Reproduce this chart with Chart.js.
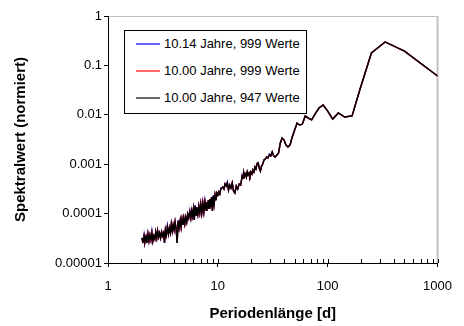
<!DOCTYPE html>
<html lang="de">
<head>
<meta charset="utf-8">
<title>Spektrum</title>
<script src="https://cdn.jsdelivr.net/npm/chart.js@4.4.0/dist/chart.umd.min.js"></script>
<style>
  html, body { margin: 0; padding: 0; background: #fff; }
  #wrap { position: relative; width: 464px; height: 326px; }
  #legende {
    position: absolute; left: 124px; top: 30px; width: 181px; height: 82px;
    border: 1px solid #000; background: #fff;
    font: 13px "Liberation Sans", Arial, sans-serif; color: #000;
  }
  #legende .linie { position: absolute; left: 11px; width: 24px; height: 2px; opacity: 0.6; }
  #legende .text { position: absolute; left: 39px; height: 16px; line-height: 16px; white-space: nowrap; }
</style>
</head>
<body>
<div id="wrap">
  <canvas id="spektrum" width="464" height="326"></canvas>
  <div id="legende"></div>
</div>
<script>
// Periodenlängen [d], gemeinsame Stützstellen der drei Spektren
const perioden = [
  2.04, 2.08, 2.13, 2.17, 2.22, 2.26, 2.31, 2.36, 2.41, 2.46,
  2.51, 2.56, 2.61, 2.67, 2.72, 2.78, 2.83, 2.89, 2.95,
  3.01, 3.08, 3.14, 3.21, 3.27, 3.33, 3.40, 3.47, 3.55, 3.62, 3.70, 3.77, 3.85, 3.92,
  4.00, 4.08, 4.17, 4.26, 4.35, 4.44, 4.55, 4.63, 4.72, 4.81, 4.90,
  5.00, 5.10, 5.21, 5.32, 5.43, 5.56, 5.68, 5.78, 5.88,
  5.99, 6.10, 6.21, 6.33, 6.45, 6.58, 6.71, 6.85, 6.99,
  7.14, 7.30, 7.46, 7.63, 7.81, 7.94,
  8.06, 8.20, 8.33, 8.47, 8.62, 8.77, 8.93,
  9.09, 9.26, 9.43, 9.62, 9.80, 10.0,
  10.20, 10.42, 10.64, 10.87, 11.11, 11.36, 11.63, 11.90, 12.20, 12.50,
  12.82, 13.16, 13.51, 13.89, 14.29, 14.71, 15.15, 15.63, 16.13, 16.67,
  16.95, 17.24, 17.54, 17.86, 18.18, 18.52, 18.87, 19.23, 19.61, 20.00,
  20.41, 20.83, 21.28, 21.74, 22.22, 22.73, 23.26, 23.81, 24.39, 25.00,
  25.64, 26.32, 27.03, 27.78, 28.57, 29.41, 30.30, 31.25, 32.26, 33.33,
  34.48, 35.71, 37.04, 38.46,
  40.00, 41.67, 43.48, 45.45, 47.62, 50.00, 52.63, 55.56, 58.82, 62.50,
  66.67, 71.43, 76.92, 83.33, 90.91, 100.0, 111.1, 125.0, 142.9, 166.7,
  200.0, 250.0, 333.3, 500.0, 1000
];

// 10.14 Jahre, 999 Werte
const werte1014 = [
  3.21e-5, 2.54e-5, 3.70e-5, 2.66e-5, 3.36e-5, 2.54e-5, 3.87e-5, 2.79e-5, 3.69e-5, 2.92e-5,
  4.30e-5, 2.79e-5, 3.52e-5, 3.06e-5, 4.25e-5, 3.21e-5, 4.45e-5, 3.36e-5, 4.05e-5,
  3.21e-5, 4.25e-5, 3.52e-5, 4.05e-5, 2.54e-5, 4.66e-5, 3.69e-5, 5.60e-5, 3.87e-5, 5.11e-5, 4.05e-5, 6.16e-5, 4.45e-5, 5.88e-5,
  4.66e-5, 6.76e-5, 4.88e-5, 2.54e-5, 7.40e-5, 5.11e-5, 7.42e-5, 5.36e-5, 7.78e-5, 5.88e-5, 8.15e-5,
  6.16e-5, 8.54e-5, 6.76e-5, 9.80e-5, 8.15e-5, 1.13e-4, 8.15e-5, 1.13e-4, 8.94e-5,
  1.24e-4, 7.42e-5, 1.48e-4, 9.37e-5, 1.36e-4, 9.80e-5, 1.42e-4, 1.03e-4, 1.56e-4,
  1.03e-4, 1.64e-4, 1.08e-4, 1.80e-4, 1.18e-4, 1.72e-4,
  1.24e-4, 1.88e-4, 1.30e-4, 1.97e-4, 1.36e-4, 2.17e-4, 1.13e-4,
  2.36e-4, 1.56e-4, 2.38e-4, 1.88e-4, 2.61e-4, 2.38e-4,
  2.74e-4, 2.49e-4, 3.30e-4, 3.30e-4, 3.45e-4, 3.15e-4, 3.97e-4, 3.62e-4, 4.35e-4, 3.00e-4,
  3.79e-4, 3.30e-4, 4.16e-4, 2.87e-4, 2.61e-4, 3.62e-4, 3.15e-4, 3.97e-4, 3.79e-4, 6.00e-4,
  5.26e-4, 6.64e-4, 5.77e-4, 6.34e-4, 5.51e-4, 6.95e-4, 6.04e-4, 6.64e-4, 5.77e-4, 6.95e-4,
  6.34e-4, 7.63e-4, 6.95e-4, 8.77e-4, 8.00e-4, 1.05e-3, 1.06e-3, 8.37e-4, 7.28e-4, 9.20e-4,
  1.01e-3, 1.22e-3, 1.27e-3, 1.40e-3, 1.34e-3, 1.60e-3, 1.47e-3, 1.77e-3, 1.47e-3, 1.40e-3,
  1.54e-3, 1.69e-3, 2.69e-3, 3.39e-3,
  3.09e-3, 2.45e-3, 2.23e-3, 2.45e-3, 3.70e-3, 4.90e-3, 6.80e-3, 6.20e-3, 6.50e-3, 9.50e-3,
  8.60e-3, 7.90e-3, 1.04e-2, 1.37e-2, 1.58e-2, 1.19e-2, 8.20e-3, 1.09e-2, 9.00e-3, 9.50e-3,
  0.037, 0.178, 0.298, 0.195, 0.061
];

// 10.00 Jahre, 999 Werte
const werte1000 = [
  3.21e-5, 2.54e-5, 3.52e-5, 2.66e-5, 3.36e-5, 2.54e-5, 3.87e-5, 2.79e-5, 3.69e-5, 2.92e-5,
  4.05e-5, 2.79e-5, 3.52e-5, 3.06e-5, 4.25e-5, 3.21e-5, 4.45e-5, 3.36e-5, 4.05e-5,
  3.21e-5, 4.25e-5, 3.52e-5, 4.05e-5, 2.60e-5, 4.66e-5, 3.69e-5, 5.36e-5, 3.87e-5, 5.11e-5, 4.05e-5, 6.16e-5, 4.45e-5, 5.88e-5,
  4.66e-5, 6.76e-5, 4.88e-5, 2.70e-5, 7.08e-5, 5.11e-5, 7.42e-5, 5.36e-5, 7.78e-5, 5.88e-5, 8.15e-5,
  6.16e-5, 8.54e-5, 6.76e-5, 9.80e-5, 8.15e-5, 1.08e-4, 8.15e-5, 1.13e-4, 8.94e-5,
  1.24e-4, 7.42e-5, 1.42e-4, 9.37e-5, 1.36e-4, 9.80e-5, 1.42e-4, 1.03e-4, 1.56e-4,
  1.03e-4, 1.64e-4, 1.08e-4, 1.72e-4, 1.18e-4, 1.72e-4,
  1.24e-4, 1.88e-4, 1.30e-4, 1.97e-4, 1.36e-4, 2.17e-4, 1.13e-4,
  2.27e-4, 1.56e-4, 2.38e-4, 1.88e-4, 2.61e-4, 2.38e-4,
  2.74e-4, 2.49e-4, 3.15e-4, 3.30e-4, 3.45e-4, 3.15e-4, 3.97e-4, 3.62e-4, 4.16e-4, 3.00e-4,
  3.79e-4, 3.30e-4, 4.16e-4, 2.87e-4, 2.61e-4, 3.62e-4, 3.15e-4, 3.97e-4, 3.79e-4, 5.77e-4,
  5.26e-4, 6.64e-4, 5.77e-4, 6.34e-4, 5.51e-4, 6.95e-4, 6.04e-4, 6.64e-4, 5.77e-4, 6.95e-4,
  6.34e-4, 7.63e-4, 6.95e-4, 8.77e-4, 8.00e-4, 1.01e-3, 1.06e-3, 8.37e-4, 7.28e-4, 9.20e-4,
  1.01e-3, 1.22e-3, 1.27e-3, 1.40e-3, 1.34e-3, 1.54e-3, 1.47e-3, 1.77e-3, 1.47e-3, 1.40e-3,
  1.54e-3, 1.69e-3, 2.69e-3, 3.39e-3,
  3.09e-3, 2.45e-3, 2.23e-3, 2.45e-3, 3.56e-3, 4.90e-3, 6.80e-3, 6.20e-3, 6.50e-3, 9.50e-3,
  8.60e-3, 7.90e-3, 1.04e-2, 1.37e-2, 1.58e-2, 1.19e-2, 8.20e-3, 1.09e-2, 9.00e-3, 9.50e-3,
  0.037, 0.178, 0.298, 0.195, 0.061
];

// 10.00 Jahre, 947 Werte
const werte947 = [
  3.21e-5, 2.54e-5, 3.52e-5, 2.66e-5, 3.36e-5, 2.54e-5, 3.87e-5, 2.79e-5, 3.69e-5, 2.92e-5,
  4.05e-5, 2.79e-5, 3.52e-5, 3.06e-5, 4.25e-5, 3.21e-5, 4.45e-5, 3.36e-5, 4.05e-5,
  3.21e-5, 4.25e-5, 3.52e-5, 4.05e-5, 2.54e-5, 4.66e-5, 3.69e-5, 5.36e-5, 3.87e-5, 5.11e-5, 4.05e-5, 6.16e-5, 4.45e-5, 5.88e-5,
  4.66e-5, 6.76e-5, 4.88e-5, 2.54e-5, 7.08e-5, 5.11e-5, 7.42e-5, 5.36e-5, 7.78e-5, 5.88e-5, 8.15e-5,
  6.16e-5, 8.54e-5, 6.76e-5, 9.80e-5, 8.15e-5, 1.08e-4, 8.15e-5, 1.13e-4, 8.94e-5,
  1.24e-4, 7.42e-5, 1.42e-4, 9.37e-5, 1.36e-4, 9.80e-5, 1.42e-4, 1.03e-4, 1.56e-4,
  1.03e-4, 1.64e-4, 1.08e-4, 1.72e-4, 1.18e-4, 1.72e-4,
  1.24e-4, 1.88e-4, 1.30e-4, 1.97e-4, 1.36e-4, 2.17e-4, 1.13e-4,
  2.27e-4, 1.56e-4, 2.38e-4, 1.88e-4, 2.61e-4, 2.38e-4,
  2.74e-4, 2.49e-4, 3.15e-4, 3.30e-4, 3.45e-4, 3.15e-4, 3.97e-4, 3.62e-4, 4.16e-4, 3.00e-4,
  3.79e-4, 3.30e-4, 4.16e-4, 2.87e-4, 2.61e-4, 3.62e-4, 3.15e-4, 3.97e-4, 3.79e-4, 5.77e-4,
  5.26e-4, 6.64e-4, 5.77e-4, 6.34e-4, 5.51e-4, 6.95e-4, 6.04e-4, 6.64e-4, 5.77e-4, 6.95e-4,
  6.34e-4, 7.63e-4, 6.95e-4, 8.77e-4, 8.00e-4, 1.01e-3, 1.06e-3, 8.37e-4, 7.28e-4, 9.20e-4,
  1.01e-3, 1.22e-3, 1.27e-3, 1.40e-3, 1.34e-3, 1.54e-3, 1.47e-3, 1.77e-3, 1.47e-3, 1.40e-3,
  1.54e-3, 1.69e-3, 2.69e-3, 3.39e-3,
  3.09e-3, 2.45e-3, 2.23e-3, 2.45e-3, 3.56e-3, 4.90e-3, 6.80e-3, 6.20e-3, 6.50e-3, 9.50e-3,
  8.60e-3, 7.90e-3, 1.04e-2, 1.37e-2, 1.58e-2, 1.19e-2, 8.20e-3, 1.09e-2, 9.00e-3, 9.50e-3,
  0.037, 0.178, 0.298, 0.195, 0.061
];

const reihenNamen = ['10.14 Jahre, 999 Werte', '10.00 Jahre, 999 Werte', '10.00 Jahre, 947 Werte'];
const reihenFarben = ['#0000ff', '#ff0000', '#000000'];

const xTicks = [1, 10, 100, 1000];
const xTickLabels = ['1', '10', '100', '1000'];
const yTicks = [1, 0.1, 0.01, 0.001, 0.0001, 0.00001];
const yTickLabels = ['1', '0.1', '0.01', '0.001', '0.0001', '0.00001'];

const schrift = '"Liberation Sans", Arial, sans-serif';

function punkte(werte) {
    return perioden.map((p, i) => ({ x: p, y: werte[i] }));
}

// grauer Rahmen oben und rechts um die Zeichenfläche
const plotRahmen = {
    id: 'plotRahmen',
    beforeDraw(chart) {
        const { ctx, chartArea: a } = chart;
        ctx.save();
        ctx.strokeStyle = '#c0c0c0';
        ctx.lineWidth = 1;
        ctx.beginPath();
        ctx.moveTo(a.left, a.top + 0.5);
        ctx.lineTo(a.right, a.top + 0.5);
        ctx.stroke();
        ctx.lineWidth = 2;
        ctx.beginPath();
        ctx.moveTo(a.right, a.top);
        ctx.lineTo(a.right, a.bottom);
        ctx.stroke();
        ctx.restore();
    }
};

// kleine Teilstriche (1..10 je Dekade) nach innen auf der x-Achse
const nebenStriche = {
    id: 'nebenStriche',
    afterDraw(chart) {
        const xs = chart.scales.x;
        const unten = chart.chartArea.bottom;
        const { ctx } = chart;
        ctx.save();
        ctx.strokeStyle = '#000';
        ctx.lineWidth = 1;
        ctx.beginPath();
        for (let dekade = 1; dekade < 1000; dekade *= 10) {
            for (let m = 1; m <= 10; m++) {
                const px = Math.round(xs.getPixelForValue(m * dekade)) + 0.5;
                ctx.moveTo(px, unten);
                ctx.lineTo(px, unten - 4);
            }
        }
        ctx.stroke();
        ctx.restore();
    }
};

const reihen = [werte1014, werte1000, werte947];

const config = {
    type: 'line',
    data: {
        datasets: reihen.map((werte, i) => ({
            label: reihenNamen[i],
            data: punkte(werte),
            borderColor: reihenFarben[i],
            borderWidth: 1.4,
            pointRadius: 0,
            tension: 0,
            fill: false,
            order: 3 - i
        }))
    },
    options: {
        responsive: false,
        devicePixelRatio: 1,
        animation: false,
        layout: { padding: { left: 0, right: 21, top: 16, bottom: 0 } },
        plugins: {
            legend: { display: false },
            tooltip: { enabled: false }
        },
        scales: {
            x: {
                type: 'logarithmic',
                min: 1,
                max: 1000,
                afterBuildTicks: s => { s.ticks = xTicks.map(v => ({ value: v })); },
                afterFit: s => { s.height = 63; },
                grid: { drawOnChartArea: false, drawTicks: true, tickLength: 4, color: '#000' },
                border: { display: true, color: '#000', width: 1 },
                ticks: {
                    autoSkip: false,
                    maxRotation: 0,
                    padding: 12,
                    color: '#000',
                    font: { family: schrift, size: 13 },
                    callback: (v, i) => xTickLabels[i]
                },
                title: {
                    display: true,
                    text: 'Periodenlänge [d]',
                    color: '#000',
                    font: { family: schrift, size: 15, weight: 'bold' },
                    padding: { top: 0, bottom: 3 }
                }
            },
            y: {
                type: 'logarithmic',
                min: 0.00001,
                max: 1,
                afterBuildTicks: s => { s.ticks = yTicks.map(v => ({ value: v })); },
                afterFit: s => { s.width = 108; },
                grid: { drawOnChartArea: false, drawTicks: true, tickLength: 4, color: '#000' },
                border: { display: true, color: '#000', width: 1 },
                ticks: {
                    autoSkip: false,
                    padding: 2,
                    color: '#000',
                    font: { family: schrift, size: 13 },
                    callback: (v, i) => yTickLabels[i]
                },
                title: {
                    display: true,
                    text: 'Spektralwert (normiert)',
                    color: '#000',
                    font: { family: schrift, size: 15, weight: 'bold' },
                    padding: { top: 12, bottom: 0 }
                }
            }
        }
    },
    plugins: [plotRahmen, nebenStriche]
};

const spektrumChart = new Chart(document.getElementById('spektrum'), config);

// Legende als Kasten oben links in der Zeichenfläche
const legende = document.getElementById('legende');
reihenNamen.forEach((name, i) => {
    const mitte = 13 + i * 27;
    const linie = document.createElement('div');
    linie.className = 'linie';
    linie.style.top = (mitte - 1) + 'px';
    linie.style.background = reihenFarben[i];
    const text = document.createElement('div');
    text.className = 'text';
    text.style.top = (mitte - 8) + 'px';
    text.textContent = name;
    legende.appendChild(linie);
    legende.appendChild(text);
});
</script>
</body>
</html>
